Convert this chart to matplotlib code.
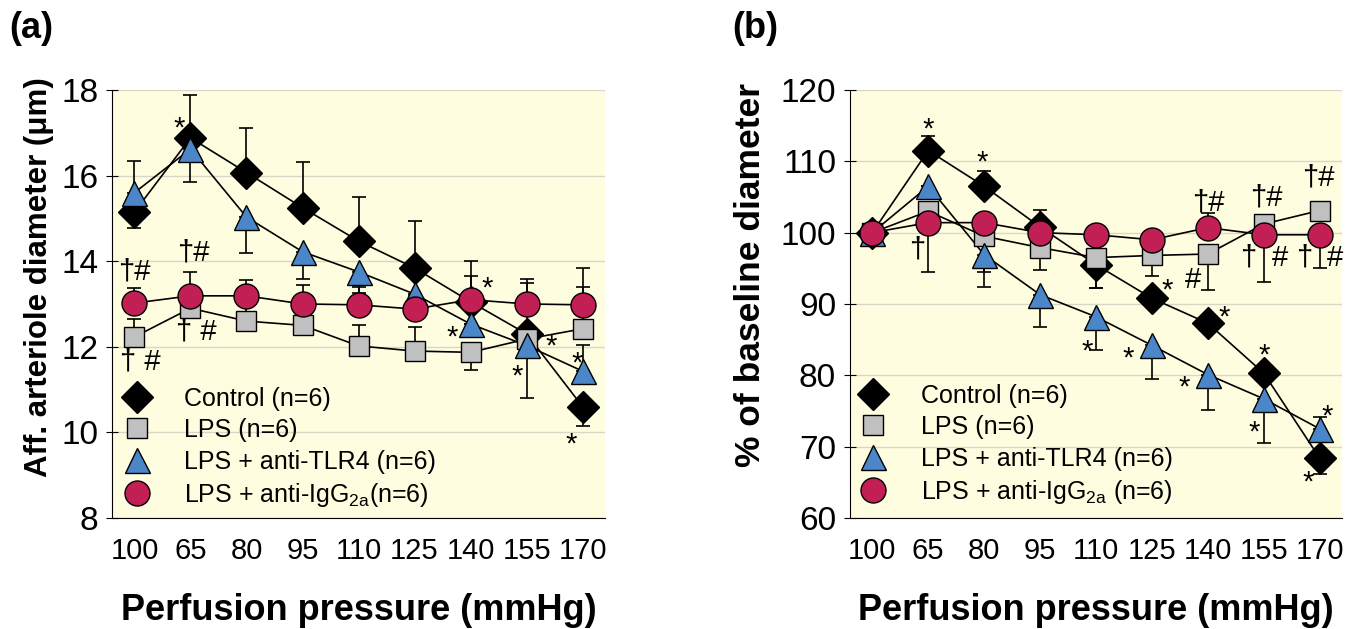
import matplotlib
matplotlib.use('Agg')
from matplotlib import pyplot as plt
import numpy as np

plt.rcParams['font.family'] = ['Liberation Sans', 'DejaVu Sans']
plt.rcParams['mathtext.default'] = 'regular'

PRESSURES = ['100', '65', '80', '95', '110', '125', '140', '155', '170']

# panel (a): afferent arteriole diameter (um)
A_CONTROL = [15.15, 16.88, 16.07, 15.25, 14.47, 13.84, 13.05, 12.30, 10.60]
A_CONTROL_LO = [0.37, 0, 0, 0, 0, 0, 0, 0, 0.45]
A_CONTROL_UP = [0, 1.00, 1.05, 1.07, 1.03, 1.10, 0.95, 1.28, 0]
A_LPS = [12.23, 12.90, 12.60, 12.50, 12.02, 11.90, 11.87, 12.18, 12.42]
A_LPS_LO = [0, 0, 0, 0, 0, 0, 0.42, 0, 0]
A_LPS_UP = [0.42, 0.45, 0.35, 0.35, 0.50, 0.56, 0, 0, 0.98]
A_TLR4 = [15.60, 16.62, 15.03, 14.22, 13.75, 13.23, 12.53, 12.03, 11.43]
A_TLR4_LO = [0, 0.77, 0.83, 0.64, 0.50, 0.50, 0, 1.23, 0]
A_TLR4_UP = [0.75, 0, 0, 0, 0, 0, 0, 0, 0.60]
A_IGG = [13.02, 13.19, 13.19, 13.00, 12.98, 12.88, 13.10, 13.00, 12.98]
A_IGG_LO = [0, 0, 0, 0, 0, 0, 0, 0, 0]
A_IGG_UP = [0.35, 0.56, 0.37, 0.45, 0.42, 0.30, 0.56, 0.50, 0.87]

# panel (b): % of baseline diameter
B_CONTROL = [100, 111.5, 106.5, 100.8, 95.5, 90.8, 87.3, 80.3, 68.4]
B_CONTROL_LO = [0, 0, 0, 0, 3.2, 0, 0, 0, 2.2]
B_CONTROL_UP = [0, 2.0, 2.2, 2.4, 0, 0, 0, 0, 0]
B_LPS = [100, 103.0, 99.5, 97.9, 96.5, 96.8, 97.0, 101.2, 103.1]
B_LPS_LO = [0, 0, 5.0, 3.2, 4.2, 2.9, 5.0, 0, 0]
B_LPS_UP = [0, 0, 0, 0, 0, 0, 0, 0, 0]
B_TLR4 = [100, 106.5, 96.9, 91.3, 88.2, 84.2, 80.1, 76.7, 72.5]
B_TLR4_LO = [0, 0, 4.5, 4.5, 4.7, 4.7, 4.9, 6.2, 0]
B_TLR4_UP = [0, 0, 0, 0, 0, 0, 0, 0, 1.6]
B_IGG = [100, 101.4, 101.4, 100.0, 99.7, 99.0, 100.7, 99.7, 99.7]
B_IGG_LO = [0, 6.9, 0, 0, 0, 0, 0, 6.6, 4.6]
B_IGG_UP = [0, 0, 0, 0, 0, 0, 2.0, 0, 0]

# significance marks: (x index, y, text)
A_MARKS = [(0.8, 17.3, '*'), (6.3, 13.55, '*'), (5.68, 12.4, '*'), (7.43, 12.2, '*'),
           (6.84, 11.5, '*'), (7.91, 11.8, '*'), (7.79, 9.9, '*'),
           (0.0, 13.77, '†#'), (1.05, 14.2, '†#'), (1.1, 12.35, '† #'), (0.1, 11.65, '† #')]
B_MARKS = [(1.0, 115.6, '*'), (1.96, 111.0, '*'), (0.8, 97.6, '†'), (5.27, 93.1, '*'),
           (5.73, 93.4, '#'), (6.29, 89.3, '*'), (7.0, 84.0, '*'), (3.84, 84.5, '*'),
           (4.57, 83.5, '*'), (5.57, 79.4, '*'), (6.82, 73.2, '*'), (8.14, 75.4, '*'),
           (7.79, 66.2, '*'), (6.0, 104.2, '†#'), (7.05, 104.9, '†#'), (7.98, 107.7, '†#'),
           (6.73, 96.5, '†'), (7.29, 96.5, '#'), (7.72, 96.5, '†'), (8.27, 96.5, '#')]

BG = '#fffde0'
STYLES = [('D', 'black', 16), ('s', '#c0c0c0', 15), ('^', '#4a86c8', 18), ('o', '#c21f55', 18)]


def draw_panel(ax, series, labels, ylim, yticks, ylabel, ylabel_size, ylabel_pos, marks, leg_anchor):
    x = np.arange(len(PRESSURES))
    ax.set_facecolor(BG)
    for (y, lo, up), (mk, col, ms), lab in zip(series, STYLES, labels):
        ax.plot(x, y, '-', color='black', lw=1.2, zorder=2)
        ax.errorbar(x, y, yerr=[lo, up], fmt='none', ecolor='black', elinewidth=1.2,
                    capsize=5, capthick=1.2, zorder=2.5)
        ax.plot(x, y, linestyle='none', marker=mk, markersize=ms, markerfacecolor=col,
                markeredgecolor='black', markeredgewidth=1, zorder=3, label=lab)
    for mx, my, txt in marks:
        dy = -6 if txt == '*' else 0
        ax.annotate(txt, (mx, my), xytext=(0, dy), textcoords='offset points',
                    ha='center', va='center', fontsize=21, zorder=4)
    ax.set_xlim(-0.4, 8.4)
    ax.set_ylim(*ylim)
    ax.set_yticks(yticks)
    ax.set_xticks(x)
    ax.set_xticklabels(PRESSURES)
    ax.yaxis.grid(True, color='#d8d6c4', lw=1)
    ax.set_axisbelow(True)
    for s in ['top', 'right']:
        ax.spines[s].set_visible(False)
    ax.tick_params(axis='x', length=0, labelsize=21, pad=14)
    ax.tick_params(axis='y', direction='inout', length=8, labelsize=24, pad=6)
    ax.set_xlabel('Perfusion pressure (mmHg)', fontsize=26, fontweight='bold', labelpad=20)
    ax.set_ylabel(ylabel, fontsize=ylabel_size, fontweight='bold')
    ax.yaxis.set_label_coords(*ylabel_pos)
    ax.legend(loc='lower left', bbox_to_anchor=leg_anchor, frameon=False, fontsize=18,
              handletextpad=1.2, labelspacing=0.3, borderaxespad=0.3, handlelength=1.4)


def main():
    fig = plt.figure(figsize=(13.63, 6.29), dpi=100)
    ax_a = fig.add_axes([0.0822, 0.1765, 0.3617, 0.6805])
    ax_b = fig.add_axes([0.6236, 0.1765, 0.3610, 0.6805])

    draw_panel(ax_a,
               [(A_CONTROL, A_CONTROL_LO, A_CONTROL_UP), (A_LPS, A_LPS_LO, A_LPS_UP),
                (A_TLR4, A_TLR4_LO, A_TLR4_UP), (A_IGG, A_IGG_LO, A_IGG_UP)],
               ['Control (n=6)', 'LPS (n=6)', 'LPS + anti-TLR4 (n=6)',
                'LPS + anti-IgG$_{2a}$(n=6)'],
               (8, 18), [8, 10, 12, 14, 16, 18], 'Aff. arteriole diameter (μm)', 22.5,
               (-0.118, 0.563), A_MARKS, (-0.021, -0.02))
    draw_panel(ax_b,
               [(B_CONTROL, B_CONTROL_LO, B_CONTROL_UP), (B_LPS, B_LPS_LO, B_LPS_UP),
                (B_TLR4, B_TLR4_LO, B_TLR4_UP), (B_IGG, B_IGG_LO, B_IGG_UP)],
               ['Control (n=6)', 'LPS (n=6)', 'LPS + anti-TLR4 (n=6)',
                'LPS + anti-IgG$_{2a}$ (n=6)'],
               (60, 120), [60, 70, 80, 90, 100, 110, 120], '% of baseline diameter', 25.5,
               (-0.168, 0.568), B_MARKS, (-0.024, -0.013))

    fig.text(0.007, 0.955, '(a)', fontsize=26, fontweight='bold', va='center')
    fig.text(0.537, 0.955, '(b)', fontsize=26, fontweight='bold', va='center')
    fig.savefig('out.png', dpi=100)


if __name__ == '__main__':
    main()
